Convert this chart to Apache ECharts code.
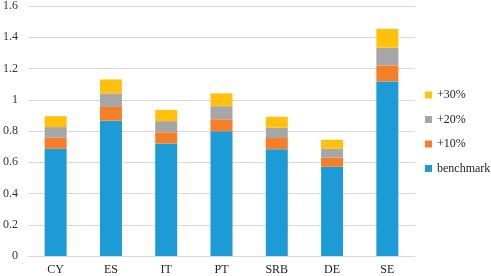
<!DOCTYPE html>
<html>
<head>
<meta charset="utf-8">
<script src="https://cdn.jsdelivr.net/npm/echarts@6/dist/echarts.min.js"></script>
<style>html,body{margin:0;padding:0;background:#fff}#c{width:491px;height:276px}</style>
</head>
<body>
<div id="c"></div>
<script>
var categories = ['CY', 'ES', 'IT', 'PT', 'SRB', 'DE', 'SE'];
var benchmark = [0.686, 0.866, 0.720, 0.798, 0.684, 0.571, 1.117];
var plus10 = [0.071, 0.088, 0.072, 0.077, 0.071, 0.059, 0.103];
var plus20 = [0.068, 0.087, 0.071, 0.084, 0.066, 0.057, 0.113];
var plus30 = [0.070, 0.089, 0.072, 0.082, 0.070, 0.057, 0.121];
var yTicks = ['0', '0.2', '0.4', '0.6', '0.8', '1', '1.2', '1.4', '1.6'];

var font = "Liberation Serif";
var chart = echarts.init(document.getElementById('c'));
function s(name, data, color) {
  return { name: name, type: 'bar', stack: 'a', data: data, barWidth: 22,
    itemStyle: { color: color }, animation: false };
}
chart.setOption({
  animation: false,
  textStyle: { fontFamily: font },
  grid: { left: 25, right: 76, top: 5, bottom: 19 },
  legend: {
    orient: 'vertical', left: 425, top: 89, padding: 0,
    data: ['+30%', '+20%', '+10%', 'benchmark'],
    itemWidth: 7, itemHeight: 7, itemGap: 12.5,
    icon: 'rect',
    textStyle: { fontFamily: font, fontSize: 12, color: '#222' }
  },
  xAxis: {
    type: 'category', data: categories,
    axisLine: { show: true, lineStyle: { color: '#d9d9d9' } },
    axisTick: { show: false },
    axisLabel: { fontFamily: font, fontSize: 12, color: '#222', margin: 8 }
  },
  yAxis: {
    type: 'value', min: 0, max: 1.6, interval: 0.2,
    axisLine: { show: false }, axisTick: { show: false },
    splitLine: { lineStyle: { color: '#d9d9d9' } },
    axisLabel: { fontFamily: font, fontSize: 12, color: '#333', margin: 10,
      formatter: function (v) { return yTicks[Math.round(v / 0.2)]; } }
  },
  series: [
    s('benchmark', benchmark, '#1d9bd7'),
    s('+10%', plus10, '#f57e28'),
    s('+20%', plus20, '#a6a6a6'),
    s('+30%', plus30, '#ffc10e')
  ]
});
</script>
</body>
</html>
